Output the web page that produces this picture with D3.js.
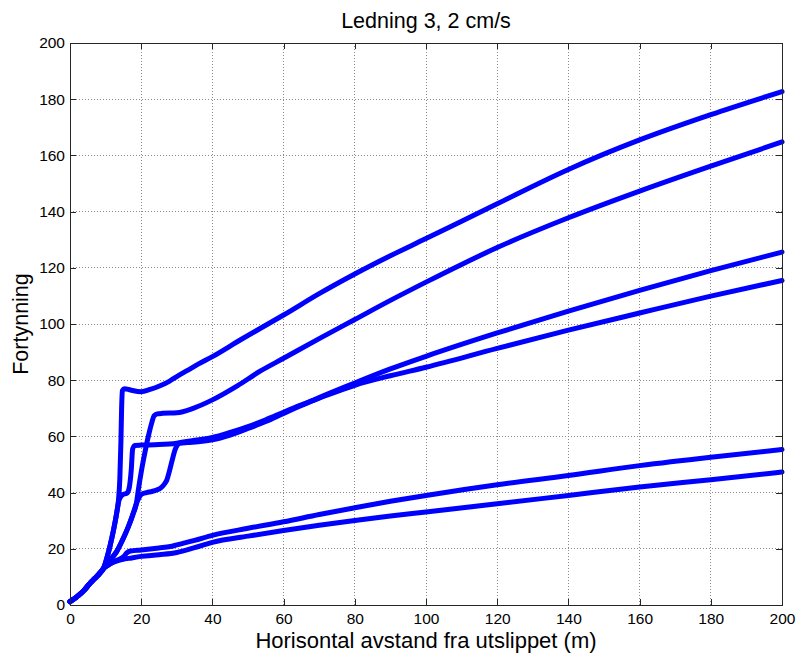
<!DOCTYPE html>
<html>
<head>
<meta charset="utf-8">
<script src="https://cdn.jsdelivr.net/npm/d3@7"></script>
<style>
  html, body { margin: 0; padding: 0; background: #fff; }
  svg { display: block; font-family: "Liberation Sans", Arial, Helvetica, sans-serif; }
</style>
</head>
<body>
<svg id="chart" width="796" height="654"></svg>
<script>
// ---- Data ----
const titleText = "Ledning 3, 2 cm/s";
const xLabelText = "Horisontal avstand fra utslippet (m)";
const yLabelText = "Fortynning";
const xTicks = [0, 20, 40, 60, 80, 100, 120, 140, 160, 180, 200];
const yTicks = [0, 20, 40, 60, 80, 100, 120, 140, 160, 180, 200];

// Curve A (top, ends ~182)
const xA = [0, 2, 4, 5.6, 7, 8.5, 9.4, 10.3, 11.2, 12.2, 13.1, 13.6, 14.0, 14.3, 14.5, 14.7, 15.3, 17, 20, 22.5, 25.3, 28, 30, 33, 36, 40, 47.8, 53.4, 60, 70, 80, 90, 100, 110, 120, 140, 160, 180, 200];
const yA = [1.2, 3, 5.3, 7.7, 9.5, 11.5, 13, 16.5, 20.8, 26.5, 32.6, 37, 45, 58, 70, 76.3, 77, 76.5, 75.9, 76.7, 78, 79.7, 81.3, 83.5, 85.7, 88.4, 94.3, 98.4, 103.2, 110.8, 117.8, 124.3, 130.4, 136.6, 142.8, 155, 165.5, 174.5, 182.7];

// Curve B (ends ~165)
const xB = [0, 2, 4, 5.6, 7, 8.5, 9.4, 10.5, 11.8, 13.1, 14.7, 16.4, 17.6, 18.7, 19.2, 20.1, 21, 22, 23, 23.6, 24.5, 26, 30, 34.6, 40, 47, 53.4, 60, 70, 80, 90, 100, 110, 120, 140, 160, 180, 200];
const yB = [1.2, 3, 5.3, 7.7, 9.5, 11.5, 13, 14.8, 16.8, 19, 23, 27.9, 32, 36.5, 41, 48, 54, 60, 65, 67.3, 68, 68.2, 68.4, 70, 73, 78, 83.2, 87.8, 94.8, 101.6, 108.4, 114.9, 121.2, 127.2, 137.8, 147.3, 156.2, 164.8];

// Curve C (step to ~57 at x~17, ends ~115)
const xC = [0, 2, 4, 5.6, 7, 8.5, 9.4, 10.3, 11.2, 12.2, 13.1, 13.6, 14.3, 14.8, 16, 16.6, 17.2, 17.6, 18.2, 20, 25, 30, 35, 40, 45, 50, 55, 60, 65, 70, 80, 90, 100, 120, 140, 160, 180, 200];
const yC = [1.2, 3, 5.3, 7.7, 9.5, 11.5, 13, 16.5, 20.8, 26.5, 32.6, 36.5, 38.6, 39.3, 39.8, 41.5, 48, 55.5, 56.8, 56.9, 57.1, 57.6, 58.6, 59.6, 61.4, 63.5, 65.9, 68.6, 71.2, 73.6, 78.2, 81.6, 84.6, 91.3, 97.8, 103.9, 109.9, 115.5];

// Curve D (plateau ~40 at x~22, ends ~126)
const xD = [0, 2, 4, 5.6, 7, 8.5, 9.4, 10.5, 11.8, 13.1, 14.7, 16.4, 17.6, 18.7, 19.4, 20.1, 21.5, 23, 24.3, 25.6, 26.5, 27.2, 28, 28.8, 29.5, 30.1, 30.8, 33, 36, 40, 45, 50, 55, 60, 65, 70, 80, 90, 100, 120, 140, 160, 180, 200];
const yD = [1.2, 3, 5.3, 7.7, 9.5, 11.5, 13, 14.8, 16.8, 19, 23, 27.9, 32, 36.2, 38.2, 39.4, 40, 40.4, 40.9, 41.8, 43, 44.5, 48, 52, 55.2, 56.8, 57.5, 57.8, 58.1, 58.8, 60.5, 62.8, 65.3, 68.2, 71, 73.8, 79, 84, 88.5, 96.8, 104.6, 112, 119, 125.6];

// Curve E (ends ~55)
const xE = [0, 2, 4, 5.6, 7, 8.5, 9.4, 10.5, 12, 13.5, 15, 16, 17, 20, 25, 28.2, 30, 35, 40, 50, 60, 70, 80, 90, 100, 120, 140, 160, 180, 200];
const yE = [1.2, 3, 5.3, 7.7, 9.5, 11.5, 13, 14, 15.2, 16.1, 17.1, 18.6, 19.2, 19.6, 20.3, 20.8, 21.4, 23, 24.8, 27.3, 29.6, 32.2, 34.6, 36.9, 39, 42.8, 46.1, 49.6, 52.6, 55.3];

// Curve F (ends ~47)
const xF = [0, 2, 4, 5.6, 7, 8.5, 9.4, 10.5, 12, 13.5, 15, 16.5, 20, 25, 30, 35, 40, 50, 60, 70, 80, 90, 100, 120, 140, 160, 180, 200];
const yF = [1.2, 3, 5.3, 7.7, 9.5, 11.5, 13, 14, 15.1, 15.8, 16.3, 16.6, 17.3, 17.9, 18.7, 20.4, 22.3, 24.5, 26.5, 28.4, 30.1, 31.7, 33.1, 36, 39, 42, 44.6, 47.3];

const seriesX = [xA, xB, xC, xD, xE, xF];
const seriesY = [yA, yB, yC, yD, yE, yF];

// ---- Layout ----
const svg = d3.select("#chart");
const mLeft = 70, mRight = 782, mTop = 43, mBottom = 605;

const x = d3.scaleLinear().domain([0, 200]).range([mLeft, mRight]);
const y = d3.scaleLinear().domain([0, 200]).range([mBottom, mTop]);

const axisColor = "#262626";
const tickLen = 6;

// Grid lines (dotted)
const grid = svg.append("g").attr("class", "grid");
grid.selectAll("line.vx").data(xTicks.slice(1, -1)).enter().append("line")
  .attr("x1", d => x(d)).attr("x2", d => x(d))
  .attr("y1", mTop).attr("y2", mBottom)
  .attr("stroke", "#8a8a8a").attr("stroke-width", 1)
  .attr("stroke-dasharray", "1,2").attr("shape-rendering", "crispEdges");
grid.selectAll("line.hy").data(yTicks.slice(1, -1)).enter().append("line")
  .attr("y1", d => y(d)).attr("y2", d => y(d))
  .attr("x1", mLeft).attr("x2", mRight)
  .attr("stroke", "#8a8a8a").attr("stroke-width", 1)
  .attr("stroke-dasharray", "1,2").attr("shape-rendering", "crispEdges");

// Curves
const line = d3.line()
  .x(d => x(d[0])).y(d => y(d[1]))
  .curve(d3.curveMonotoneX);

const curves = svg.append("g").attr("class", "curves");
seriesX.forEach((xs, i) => {
  const pts = xs.map((xv, j) => [xv, seriesY[i][j]]);
  curves.append("path")
    .datum(pts)
    .attr("d", line)
    .attr("fill", "none")
    .attr("stroke", "#0000ff")
    .attr("stroke-width", 5)
    .attr("stroke-linejoin", "round")
    .attr("stroke-linecap", "round");
});

// Axes (box with inward ticks)
const xAxisB = d3.axisBottom(x).tickValues(xTicks).tickSizeInner(-tickLen).tickSizeOuter(0).tickPadding(8);
const xAxisT = d3.axisTop(x).tickValues(xTicks).tickSizeInner(-tickLen).tickSizeOuter(0).tickFormat("");
const yAxisL = d3.axisLeft(y).tickValues(yTicks).tickSizeInner(-tickLen).tickSizeOuter(0).tickPadding(5);
const yAxisR = d3.axisRight(y).tickValues(yTicks).tickSizeInner(-tickLen).tickSizeOuter(0).tickFormat("");

function styleAxis(g) {
  g.select(".domain").attr("stroke", axisColor).attr("stroke-width", 1);
  g.selectAll(".tick line").attr("stroke", axisColor).attr("stroke-width", 1);
  g.selectAll(".tick text")
    .attr("fill", "#000")
    .style("font-size", "15.5px")
    .style("font-family", "'Liberation Sans', Arial, Helvetica, sans-serif");
  g.attr("shape-rendering", "crispEdges");
}

svg.append("g").attr("transform", `translate(0,${mBottom})`).call(xAxisB).call(styleAxis);
svg.append("g").attr("transform", `translate(0,${mTop})`).call(xAxisT).call(styleAxis);
svg.append("g").attr("transform", `translate(${mLeft},0)`).call(yAxisL).call(styleAxis);
svg.append("g").attr("transform", `translate(${mRight},0)`).call(yAxisR).call(styleAxis);

// Titles
svg.append("text")
  .attr("x", (mLeft + mRight) / 2).attr("y", 28)
  .attr("text-anchor", "middle")
  .style("font-size", "21.5px")
  .text(titleText);

svg.append("text")
  .attr("x", (mLeft + mRight) / 2).attr("y", 648)
  .attr("text-anchor", "middle")
  .style("font-size", "22px")
  .text(xLabelText);

svg.append("text")
  .attr("transform", `translate(28,${(mTop + mBottom) / 2}) rotate(-90)`)
  .attr("text-anchor", "middle")
  .style("font-size", "21.5px")
  .text(yLabelText);
</script>
</body>
</html>
